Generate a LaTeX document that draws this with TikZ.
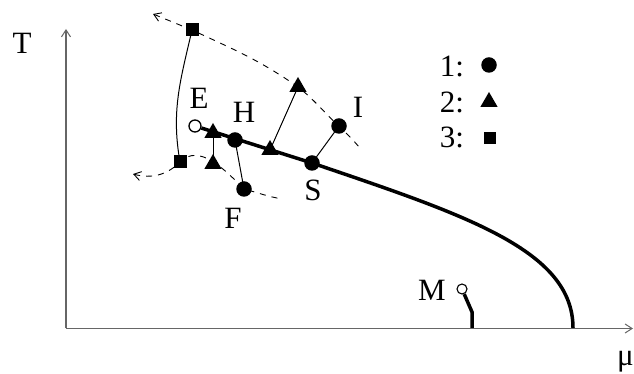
\documentclass[tikz,border=0pt]{standalone}
\usepackage{fontspec}
\setmainfont{Liberation Serif}
\usetikzlibrary{arrows.meta,shapes.geometric,backgrounds}
\begin{document}
\begin{tikzpicture}[x=1pt,y=1pt,
  lbl/.style={inner sep=0pt,font=\fontsize{31}{34}\selectfont},
  dot/.style={circle,fill=black,inner sep=0pt,minimum size=15.5pt},
  tri/.style={regular polygon,regular polygon sides=3,fill=black,inner sep=0pt,minimum size=20pt},
  sq/.style={rectangle,fill=black,inner sep=0pt,minimum size=13pt},
  odot/.style={circle,draw=black,fill=white,line width=1.3pt,inner sep=0pt,minimum size=12pt},
  barb/.style={-{Straight Barb[length=7pt,width=9pt,line width=1pt]}},
  axisline/.style={draw=black!60,line width=1.4pt},
  conn/.style={line width=1pt},
  dpath/.style={line width=0.9pt,dash pattern=on 6pt off 6pt},
  heavy/.style={line width=3.5pt}
]
\useasboundingbox (0,0) rectangle (634,374);

% axes
\coordinate (O) at (66,45.5);
\coordinate (Xtip) at (633,45.5);
\coordinate (Ytip) at (66,345);
\draw[axisline,barb] (O) -- (Xtip);
\draw[axisline,barb] (O) -- (Ytip);
\node[lbl] (Tlab) at (22,331) {T};
\node[lbl] (mulab) at (625.5,12) {μ};

% markers
\node[odot] (E) at (195,248) {};
\node[tri] (T1) at (213,241) {};
\node[tri] (T2) at (213,210) {};
\node[dot] (H) at (235,234) {};
\node[tri] (T3) at (270,224) {};
\node[tri] (T4) at (298,287) {};
\node[dot] (S) at (312,211) {};
\node[dot] (I) at (339,248) {};
\node[dot] (F) at (244,185) {};
\node[sq] (Q1) at (192,344) {};
\node[sq] (Q2) at (180,212) {};
\node[odot,minimum size=10pt,line width=1.1pt] (M) at (462,85) {};

% labels
\node[lbl] (Elab) at (199,276) {E};
\node[lbl] (Hlab) at (244,262) {H};
\node[lbl] (Ilab) at (358,267) {I};
\node[lbl] (Slab) at (313,184) {S};
\node[lbl] (Flab) at (233,156) {F};
\node[lbl] (Mlab) at (432,84) {M};

% legend
\node[lbl] (L1) at (452,308) {1:};
\node[dot] (L1m) at (489,309) {};
\node[lbl] (L2) at (452,272) {2:};
\node[tri] (L2m) at (489,272) {};
\node[lbl] (L3) at (452,237) {3:};
\node[sq,minimum size=12pt] (L3m) at (490,236) {};

% free ends
\coordinate (Cend) at (573,46);
\coordinate (Mbend) at (472,62);
\coordinate (Mfoot) at (472,46);
\coordinate (tipA) at (153,360);
\coordinate (endA) at (359,227);
\coordinate (tipB) at (133,200);
\coordinate (endB) at (282,175);

\begin{scope}[on background layer]
  % main coexistence curve
  \draw[heavy] (E) -- (S.center) .. controls (465,159) and (573,124) .. (Cend);
  \draw[heavy] (M) -- (Mbend) -- (Mfoot);
  % thin solid connectors
  \draw[conn] (Q1.center) to[out=-103,in=100] (Q2.center);
  \draw[conn] (T1.center) -- (T2.center);
  \draw[conn] (H.center) -- (F.center);
  \draw[conn] (T3.center) -- (T4.center);
  \draw[conn] (S.center) -- (I.center);
  % dashed paths
  \draw[dpath,{Straight Barb[length=7pt,width=9pt,line width=0.9pt]}-] (tipA) -- (Q1.center)
     to[out=-25,in=145] (T4.center) to[out=-38,in=138] (I.center) to[out=-45,in=130] (endA);
  \draw[dpath,{Straight Barb[length=7pt,width=9pt,line width=0.9pt]}-] (tipB) to[out=-15,in=-135] (Q2.center)
     to[out=45,in=135] (F.center) to[out=-15,in=170] (endB);
\end{scope}
\end{tikzpicture}
\end{document}
